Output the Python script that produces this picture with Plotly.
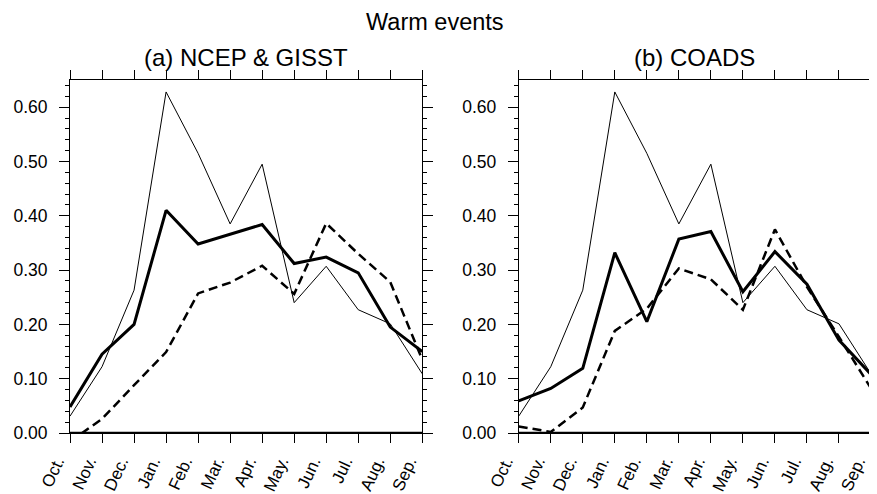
import plotly.graph_objects as go
from plotly.subplots import make_subplots

months = ["Oct.", "Nov.", "Dec.", "Jan.", "Feb.", "Mar.", "Apr.", "May.", "Jun.", "Jul.", "Aug.", "Sep."]

# thin reference curve (same in both panels)
thin = [0.031, 0.122, 0.263, 0.628, 0.515, 0.385, 0.495, 0.240, 0.307, 0.227, 0.201, 0.109]

# (a) NCEP & GISST
a_solid = [0.048, 0.145, 0.200, 0.410, 0.348, 0.366, 0.384, 0.312, 0.324, 0.295, 0.195, 0.150]
a_dash = [-0.016, 0.026, 0.088, 0.149, 0.257, 0.277, 0.308, 0.256, 0.386, 0.330, 0.278, 0.135]

# (b) COADS
b_solid = [0.059, 0.082, 0.119, 0.332, 0.205, 0.357, 0.371, 0.260, 0.334, 0.274, 0.171, 0.108]
b_dash = [0.012, 0.002, 0.047, 0.188, 0.229, 0.303, 0.283, 0.227, 0.375, 0.269, 0.177, 0.082]

ytickvals = [0.0, 0.1, 0.2, 0.3, 0.4, 0.5, 0.6]
yticktext = ["0.00", "0.10", "0.20", "0.30", "0.40", "0.50", "0.60"]

FONT = "Liberation Sans, Arial, Helvetica, sans-serif"

fig = make_subplots(rows=1, cols=2, horizontal_spacing=0.1204)

panels = [(1, a_solid, a_dash), (2, b_solid, b_dash)]
for col, solid, dash in panels:
    fig.add_trace(go.Scatter(x=months, y=thin, mode="lines",
                             line=dict(color="black", width=1), showlegend=False), row=1, col=col)
    fig.add_trace(go.Scatter(x=months, y=dash, mode="lines",
                             line=dict(color="black", width=2.5, dash="9px,5px"), showlegend=False), row=1, col=col)
    fig.add_trace(go.Scatter(x=months, y=solid, mode="lines",
                             line=dict(color="black", width=3), showlegend=False), row=1, col=col)

fig.update_xaxes(
    range=[0, 11], showgrid=False, zeroline=False, automargin=False,
    showline=True, linecolor="black", linewidth=1, mirror="ticks",
    ticks="outside", ticklen=9, tickwidth=1, tickcolor="black",
    tickangle=-65, tickfont=dict(family=FONT, size=17, color="black"),
    ticklabelstandoff=2, ticklabelshift=-13,
)
fig.update_yaxes(
    range=[0, 0.65], showgrid=False, zeroline=False, automargin=False,
    showline=True, linecolor="black", linewidth=1, mirror="ticks",
    ticks="outside", ticklen=10, tickwidth=1, tickcolor="black",
    tickvals=ytickvals, ticktext=yticktext,
    tickfont=dict(family=FONT, size=17.5, color="black"),
    ticklabelstandoff=8,
    minor=dict(dtick=0.02, tick0=0, ticks="outside", ticklen=4, tickcolor="black", tickwidth=1, showgrid=False),
)

# thick baseline at y = 0
for xr, yr in [("x domain", "y"), ("x2 domain", "y2")]:
    fig.add_shape(type="line", xref=xr, yref=yr, x0=0, x1=1, y0=0, y1=0,
                  line=dict(color="black", width=2.5), layer="above")

# page body has an 8px default margin, so the figure is 8px smaller than the window
fig.update_layout(
    width=869, height=486,
    margin=dict(l=62, r=6, t=72, b=61),
    plot_bgcolor="white", paper_bgcolor="white",
    font=dict(family=FONT, color="black"),
    annotations=[
        dict(text="Warm events", xref="paper", yref="paper", x=0.4557, y=1.1657,
             xanchor="center", yanchor="middle", showarrow=False,
             font=dict(family=FONT, size=23.5, color="black")),
        dict(text="(a) NCEP &amp; GISST", xref="paper", yref="paper", x=0.2195, y=1.065,
             xanchor="center", yanchor="middle", showarrow=False,
             font=dict(family=FONT, size=24, color="black")),
        dict(text="(b) COADS", xref="paper", yref="paper", x=0.7797, y=1.065,
             xanchor="center", yanchor="middle", showarrow=False,
             font=dict(family=FONT, size=24, color="black")),
    ],
)

fig.write_html("out.html")
